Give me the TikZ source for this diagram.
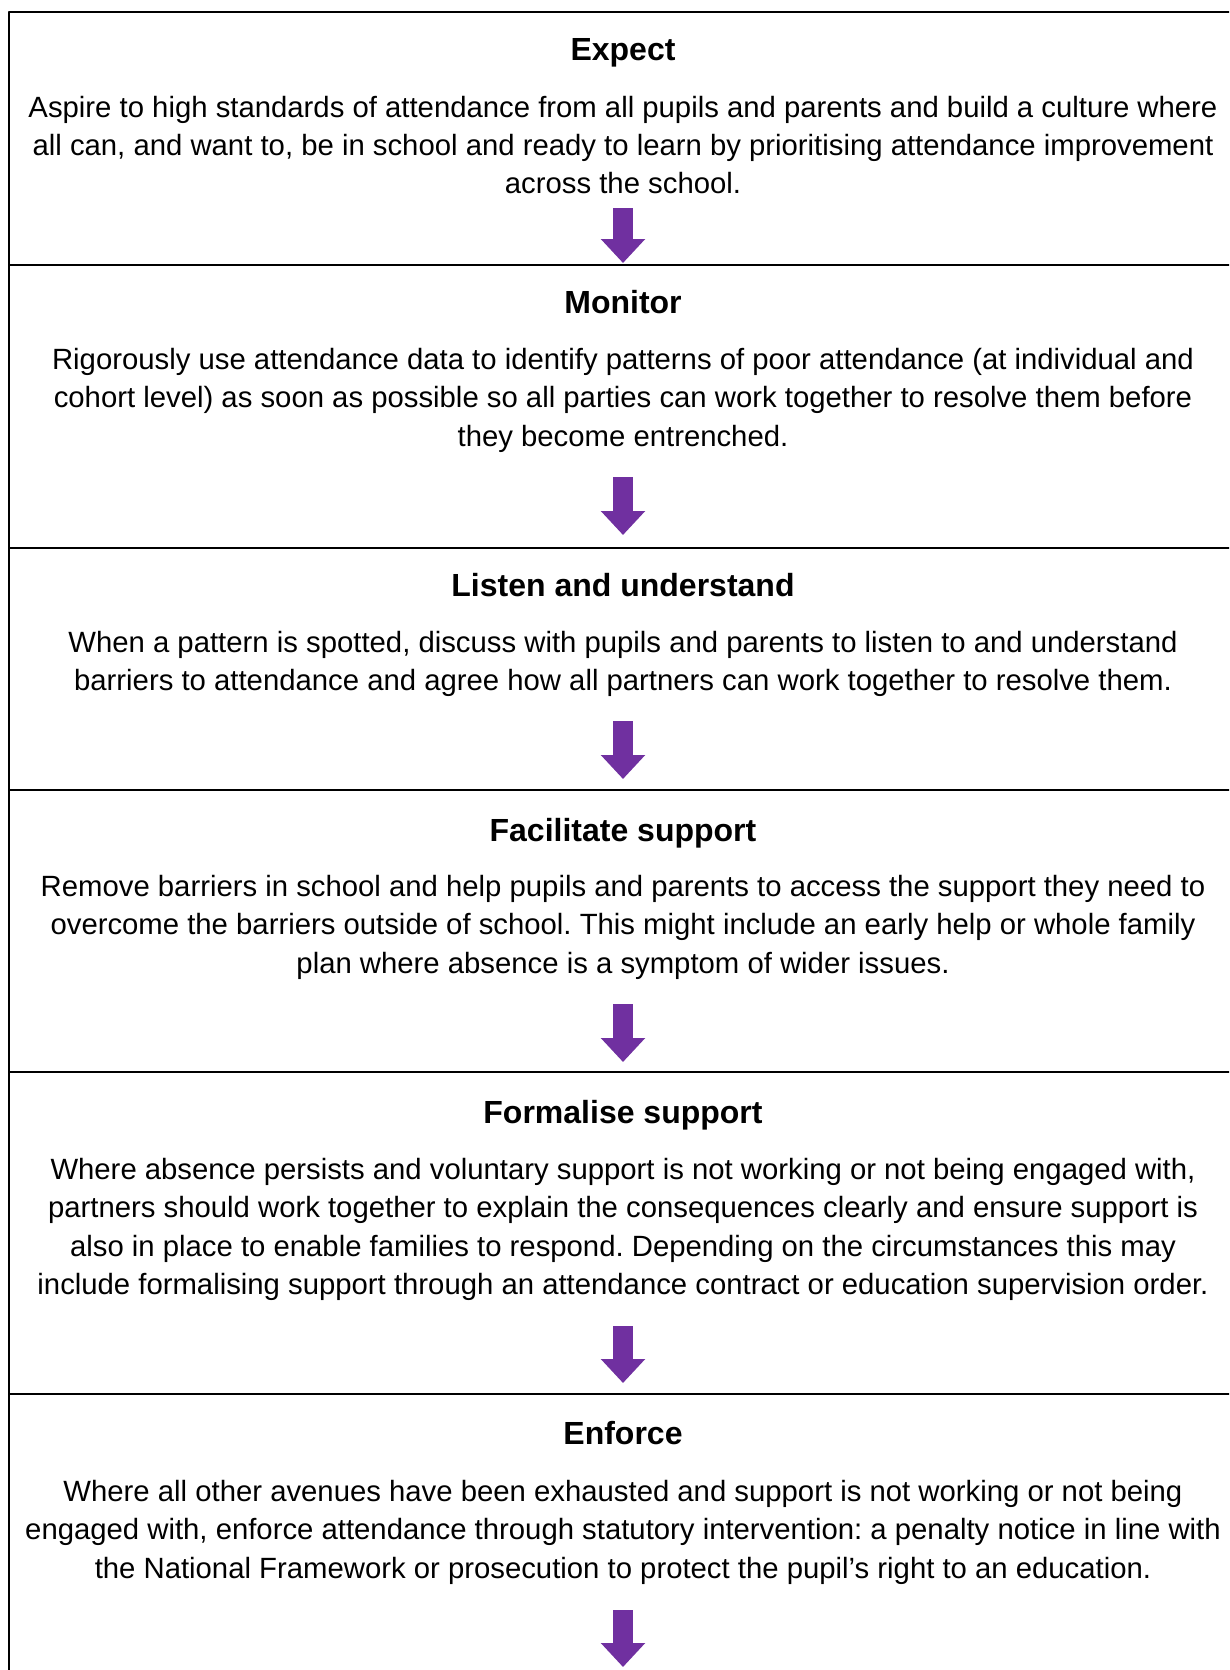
\documentclass[tikz,border=0pt]{standalone}
\usepackage{fontspec}
\setmainfont{Liberation Sans}
\usepackage{tikz}
\usetikzlibrary{arrows.meta}
\definecolor{flowpurple}{HTML}{7030A0}
\frenchspacing

\begin{document}
\begin{tikzpicture}[line cap=round,line join=round,x=1pt,y=-1pt,
  frame/.style={line width=2pt, color=black},
  stagehead/.style={font=\bfseries\fontsize{32}{38}\selectfont, inner sep=0pt, anchor=base},
  stagetext/.style={font=\fontsize{29.3}{38.3}\selectfont, align=center, inner sep=0pt, anchor=north},
  flow/.style={line width=20pt, line cap=butt, color=flowpurple, -{Triangle[width=43pt,length=24pt]}}]
\useasboundingbox (0,0) rectangle (1229,1670);
\clip (0,0) rectangle (1229,1670);
% frame and separators
\draw[frame] (9,1690)--(9,12)--(1245,12);
\draw[frame] (9,265)--(1245,265);
\draw[frame] (9,548)--(1245,548);
\draw[frame] (9,790)--(1245,790);
\draw[frame] (9,1072)--(1245,1072);
\draw[frame] (9,1394)--(1245,1394);
% stages
\node[stagehead] (expect) at (623,60.5) {Expect};
\node[stagetext] (expecttext) at (623,95.6) {Aspire to high standards of attendance from all pupils and parents and build a culture where\\all can, and want to, be in school and ready to learn by prioritising attendance improvement\\across the school.};
\node[stagehead] (monitor) at (623,313.5) {Monitor};
\node[stagetext] (monitortext) at (623,348) {Rigorously use attendance data to identify patterns of poor attendance (at individual and\\cohort level) as soon as possible so all parties can work together to resolve them before\\they become entrenched.};
\node[stagehead] (listen) at (623,596.5) {Listen and understand};
\node[stagetext] (listentext) at (623,631) {When a pattern is spotted, discuss with pupils and parents to listen to and understand\\barriers to attendance and agree how all partners can work together to resolve them.};
\node[stagehead] (facilitate) at (623,841.5) {Facilitate support};
\node[stagetext] (facilitatetext) at (623,875) {Remove barriers in school and help pupils and parents to access the support they need to\\overcome the barriers outside of school. This might include an early help or whole family\\plan where absence is a symptom of wider issues.};
\node[stagehead] (formalise) at (623,1123.5) {Formalise support};
\node[stagetext] (formalisetext) at (623,1158) {Where absence persists and voluntary support is not working or not being engaged with,\\partners should work together to explain the consequences clearly and ensure support is\\also in place to enable families to respond. Depending on the circumstances this may\\include formalising support through an attendance contract or education supervision order.};
\node[stagehead] (enforce) at (623,1444.5) {Enforce};
\node[stagetext] (enforcetext) at (623,1480) {Where all other avenues have been exhausted and support is not working or not being\\engaged with, enforce attendance through statutory intervention: a penalty notice in line with\\the National Framework or prosecution to protect the pupil’s right to an education.};
% arrows
\coordinate (top1) at (623,208);  \coordinate (tip1) at (623,263);
\coordinate (top2) at (623,477);  \coordinate (tip2) at (623,535);
\coordinate (top3) at (623,721);  \coordinate (tip3) at (623,779);
\coordinate (top4) at (623,1004); \coordinate (tip4) at (623,1062);
\coordinate (top5) at (623,1326); \coordinate (tip5) at (623,1383);
\coordinate (top6) at (623,1610); \coordinate (tip6) at (623,1667);
\draw[flow] (top1)--(tip1);
\draw[flow] (top2)--(tip2);
\draw[flow] (top3)--(tip3);
\draw[flow] (top4)--(tip4);
\draw[flow] (top5)--(tip5);
\draw[flow] (top6)--(tip6);
\end{tikzpicture}
\end{document}
